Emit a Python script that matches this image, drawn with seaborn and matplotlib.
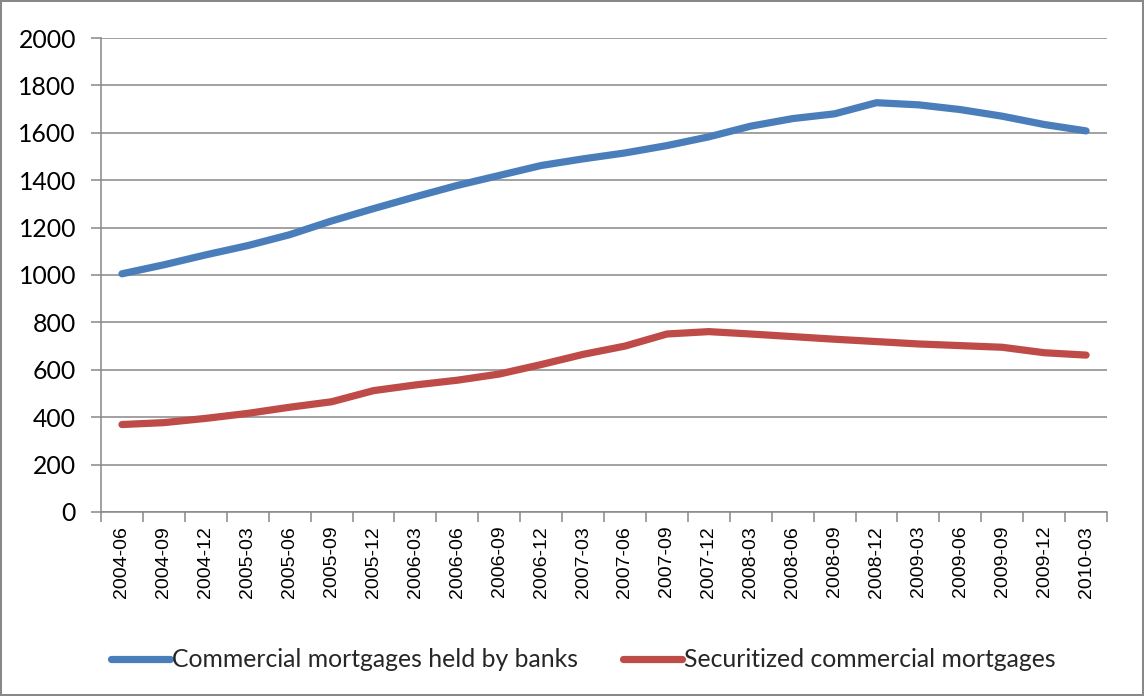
import matplotlib
matplotlib.use("Agg")
import matplotlib.pyplot as plt
import seaborn as sns
import pandas as pd
import numpy as np
from matplotlib.lines import Line2D

quarters = ["2004-06", "2004-09", "2004-12", "2005-03", "2005-06", "2005-09",
            "2005-12", "2006-03", "2006-06", "2006-09", "2006-12", "2007-03",
            "2007-06", "2007-09", "2007-12", "2008-03", "2008-06", "2008-09",
            "2008-12", "2009-03", "2009-06", "2009-09", "2009-12", "2010-03"]
banks = [1005, 1043, 1085, 1124, 1170, 1228, 1280, 1330, 1378, 1420, 1462, 1490,
         1515, 1546, 1583, 1628, 1660, 1680, 1727, 1718, 1698, 1670, 1635, 1608]
securitized = [369, 377, 395, 416, 442, 465, 512, 536, 556, 582, 622, 665,
               700, 751, 761, 751, 740, 729, 719, 709, 702, 695, 672, 662]
series_names = ["Commercial mortgages held by banks", "Securitized commercial mortgages"]
colors = ["#4A7EBB", "#BE4B48"]
yticks = list(range(0, 2001, 200))

sns.set_theme(style="white")
plt.rcParams['font.family'] = ['Liberation Sans', 'DejaVu Sans']
plt.rcParams['xtick.labelsize'] = 14
plt.rcParams['ytick.labelsize'] = 17.8
plt.rcParams['xtick.color'] = "#888888"
plt.rcParams['ytick.color'] = "#888888"
plt.rcParams['xtick.labelcolor'] = "black"
plt.rcParams['ytick.labelcolor'] = "black"

df = pd.DataFrame({
    "x": list(range(len(quarters))) * 2,
    "value": banks + securitized,
    "series": [series_names[0]] * len(quarters) + [series_names[1]] * len(quarters),
})

fig = plt.figure(figsize=(11.44, 6.96), dpi=100)
fig.patch.set_edgecolor("#888888")
fig.patch.set_linewidth(1.5)
ax = fig.add_axes([0.0883, 0.2644, 0.8794, 0.6810])

sns.lineplot(data=df, x="x", y="value", hue="series", palette=colors,
             linewidth=5.2, ax=ax, sort=False, legend=False)
for l in ax.get_lines():
    l.set_solid_capstyle("round")
    l.set_solid_joinstyle("round")

ax.set_xlim(-0.5, len(quarters) - 0.5)
ax.set_ylim(0, 2000)
ax.set_yticks(yticks)
ax.set_yticklabels([str(v) for v in yticks])
ax.yaxis.grid(True, color="#888888", linewidth=1.1)
ax.set_axisbelow(True)

ax.set_xticks(range(len(quarters)))
ax.set_xticklabels(quarters, rotation=90)
ax.set_xticks(np.arange(-0.5, len(quarters), 1), minor=True)
ax.tick_params(axis="x", which="major", length=0, pad=10)
ax.tick_params(axis="x", which="minor", length=7, width=1.1, bottom=True)
ax.tick_params(axis="y", which="major", length=7, width=1.1, left=True, pad=11,
               labelfontfamily="Lato")

for s in ["top", "right"]:
    ax.spines[s].set_visible(False)
for s in ["left", "bottom"]:
    ax.spines[s].set_color("#888888")
    ax.spines[s].set_linewidth(1.1)
ax.set_xlabel("")
ax.set_ylabel("")

handles = [Line2D([0], [0], color=c, linewidth=5.2, solid_capstyle="round") for c in colors]
fig.legend(handles, series_names, loc="center", bbox_to_anchor=(0.51, 0.052),
           ncol=2, frameon=False, prop={"family": "Lato", "size": 17.8},
           handlelength=2.4, handletextpad=0.08, columnspacing=1.8)

fig.savefig("out.png", dpi=100)
